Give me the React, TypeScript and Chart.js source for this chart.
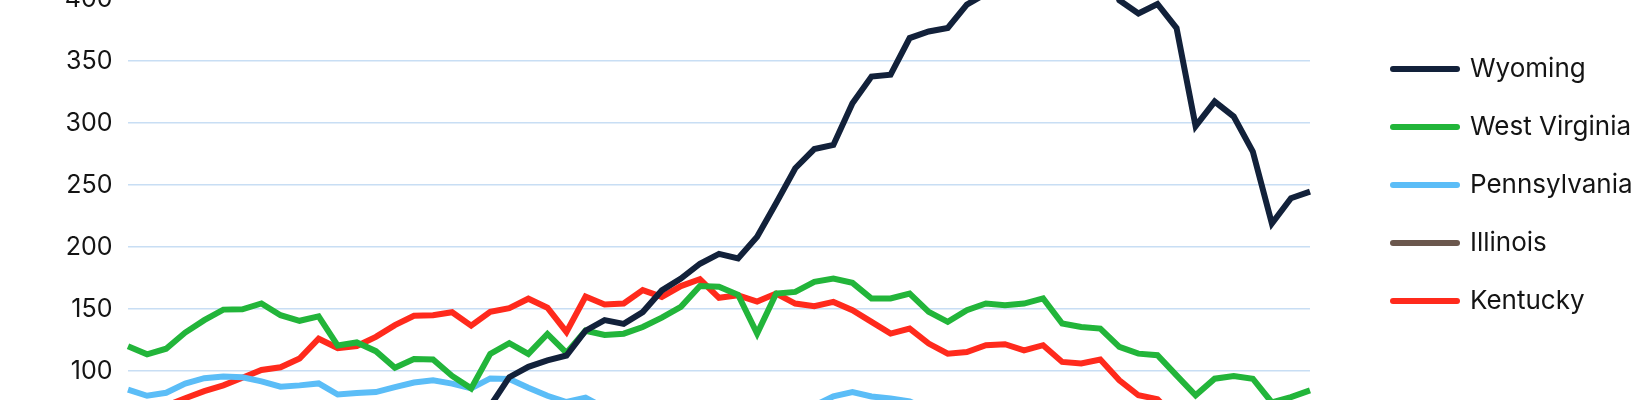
import React, { useEffect, useRef } from "react";
import { Chart, registerables } from "chart.js";

Chart.register(...registerables);

const years = [
  "1960", "1961", "1962", "1963", "1964", "1965", "1966", "1967", "1968", "1969",
  "1970", "1971", "1972", "1973", "1974", "1975", "1976", "1977", "1978", "1979",
  "1980", "1981", "1982", "1983", "1984", "1985", "1986", "1987", "1988", "1989",
  "1990", "1991", "1992", "1993", "1994", "1995", "1996", "1997", "1998", "1999",
  "2000", "2001", "2002", "2003", "2004", "2005", "2006", "2007", "2008", "2009",
  "2010", "2011", "2012", "2013", "2014", "2015", "2016", "2017", "2018", "2019",
  "2020", "2021", "2022",
];

const wyoming = [
  2.0, 2.6, 2.7, 3.0, 3.2, 3.3, 3.6, 3.8, 3.7, 4.6,
  7.2, 8.0, 10.9, 14.9, 20.7, 23.8, 30.8, 44.5, 58.3, 71.8,
  95, 103.4, 108.6, 112.5, 132.5, 141, 138, 147.5, 165, 174.5,
  186.5, 194.5, 190.8, 208.2, 235.5, 263.5, 279, 282.3, 316, 337.5,
  339, 368.5, 373.8, 376.6, 395.5, 404.3, 446.7, 453.6, 467.6, 431.1,
  442.5, 438.7, 399, 388.3, 396, 376.6, 297.5, 317.3, 305.2, 277,
  219, 239.3, 244.6,
];

const westVirginia = [
  120, 113.5, 118, 131, 141, 149.5, 149.8, 154.5, 145, 140.5,
  144, 120.5, 123, 116, 102.7, 109.6, 109.2, 96, 86, 113.8,
  122.4, 113.8, 129.9, 114.6, 132.5, 129, 130.1, 135.5, 143, 151.7,
  168.5, 168, 161.5, 130.2, 162.5, 163.8, 171.9, 174.6, 171.1, 158.5,
  158.5, 162.5, 147.7, 139.6, 149, 154.4, 153, 154.4, 158.5, 138.3,
  135.5, 134.2, 119.4, 114, 112.7, 96.5, 80.4, 93.8, 96, 93.8,
  74.6, 79, 84.4,
];

const pennsylvania = [
  85, 80, 82.4, 89.8, 94.2, 95.6, 95, 91.6, 87.3, 88.4,
  90, 81, 82.2, 83, 87, 90.7, 92.5, 89.8, 86, 94,
  93.5, 86.5, 80, 75, 78.5, 70.2, 68.9, 71, 71.2, 70,
  71, 65.4, 68, 59.8, 62.5, 61.6, 72, 79.5, 83, 79.5,
  77.8, 75.5, 68.4, 63.6, 66, 67.5, 66.2, 65, 65.4, 58,
  58.6, 59.2, 54.7, 54, 61, 50, 45.7, 49.2, 49.5, 46.3,
  32.2, 37.5, 40,
];

const illinois = [
  45.9, 46.5, 48.6, 51, 55.6, 58.5, 62.6, 65, 62.9, 64.6,
  65.1, 58.2, 65.5, 61.6, 58.2, 59.5, 58.2, 53.5, 48.8, 58.5,
  62.5, 53.1, 62.4, 57.2, 62.6, 59.3, 62.1, 59.6, 58.9, 59.1,
  60.4, 60, 59.9, 41.1, 53.9, 48.2, 46.7, 41.2, 39.7, 40.4,
  33.4, 33.8, 33.3, 31.6, 31.9, 32, 32.7, 32.4, 32.9, 33.7,
  33, 37.8, 48.5, 52.1, 58, 56.1, 43.4, 48.5, 49.8, 45.8,
  37.9, 34.9, 37,
];

const kentucky = [
  66, 65, 72, 78, 83.8, 88.4, 94.5, 100.8, 103, 110,
  126, 118.5, 120.2, 127.5, 137, 144.5, 145, 147.4, 136.6, 147.7,
  150.7, 158.3, 151, 131.5, 160, 153.6, 154.4, 165.2, 159.8, 168.5,
  174, 159, 161, 156, 162.5, 154.4, 152.3, 155.7, 149, 139.6,
  130.2, 134.2, 122.1, 114, 115.3, 120.8, 121.6, 116.7, 120.8, 107.3,
  106, 109.2, 92.5, 80.4, 77.3, 61.4, 42.9, 40, 39.6, 36,
  27.6, 28.4, 30.4,
];

const seriesNames = ["Wyoming", "West Virginia", "Pennsylvania", "Illinois", "Kentucky"];
const seriesColors = ["#12213a", "#22b53a", "#5bbdf7", "#6b574d", "#ff2a1c"];
const yTicksStep = 50;

const FONT = "Inter, 'Noto Sans', sans-serif";
const TEXT = "#141414";
const GRID = "#c8def4";

const legendWidthPlugin = {
  id: "legendWidthFix",
  afterInit(chart: any) {
    const leg = chart.legend;
    if (!leg) return;
    const orig = leg.fit;
    leg.fit = function () {
      orig.call(this);
      this.width = 1650 - 1310 - 51;
    };
  },
};

export default function App() {
  const ref = useRef<HTMLCanvasElement | null>(null);

  useEffect(() => {
    if (!ref.current) return;
    const values = [wyoming, westVirginia, pennsylvania, illinois, kentucky];
    const chart = new Chart(ref.current, {
      type: "line",
      data: {
        labels: years,
        datasets: seriesNames.map((name, i) => ({
          label: name,
          data: values[i],
          borderColor: seriesColors[i],
          backgroundColor: seriesColors[i],
          borderWidth: 6,
          pointRadius: 0,
          pointHoverRadius: 0,
          tension: 0,
          fill: false,
        })),
      },
      options: {
        responsive: false,
        animation: false,
        events: [],
        layout: { padding: 0 },
        plugins: {
          legend: {
            position: "right",
            align: "center",
            labels: {
              boxWidth: 64,
              boxHeight: 0.01,
              padding: 32,
              color: TEXT,
              font: { family: FONT, size: 26 },
              generateLabels: (c: any) =>
                (Chart.defaults.plugins.legend.labels as any)
                  .generateLabels(c)
                  .map((l: any) => ({ ...l, lineWidth: 6, lineJoin: "round", lineCap: "round" })),
            },
          },
          tooltip: { enabled: false },
          title: { display: false },
        },
        scales: {
          x: { display: false },
          y: {
            min: 0,
            max: 500,
            ticks: {
              stepSize: yTicksStep,
              padding: 15.5,
              color: TEXT,
              font: { family: FONT, size: 25 },
            },
            grid: { color: GRID, lineWidth: 1.5, drawTicks: false },
            border: { display: false },
            afterFit: (s: any) => {
              s.width = 128;
              s.paddingTop = 0;
              s.paddingBottom = 0;
            },
          },
          gap: {
            type: "linear",
            position: "right",
            display: true,
            grid: { display: false },
            ticks: { display: false },
            border: { display: false },
            afterFit: (s: any) => {
              s.width = 51;
              s.paddingTop = 0;
              s.paddingBottom = 0;
            },
          },
        },
      } as any,
      plugins: [legendWidthPlugin],
    });
    return () => chart.destroy();
  }, []);

  return (
    <div
      style={{
        position: "absolute",
        left: 0,
        top: 0,
        width: 1650,
        height: 400,
        overflow: "hidden",
        background: "#ffffff",
      }}
    >
      <div style={{ position: "absolute", left: 0, top: -125, width: 1650, height: 620 }}>
        <canvas ref={ref} width={1650} height={620} style={{ display: "block" }} />
      </div>
    </div>
  );
}
